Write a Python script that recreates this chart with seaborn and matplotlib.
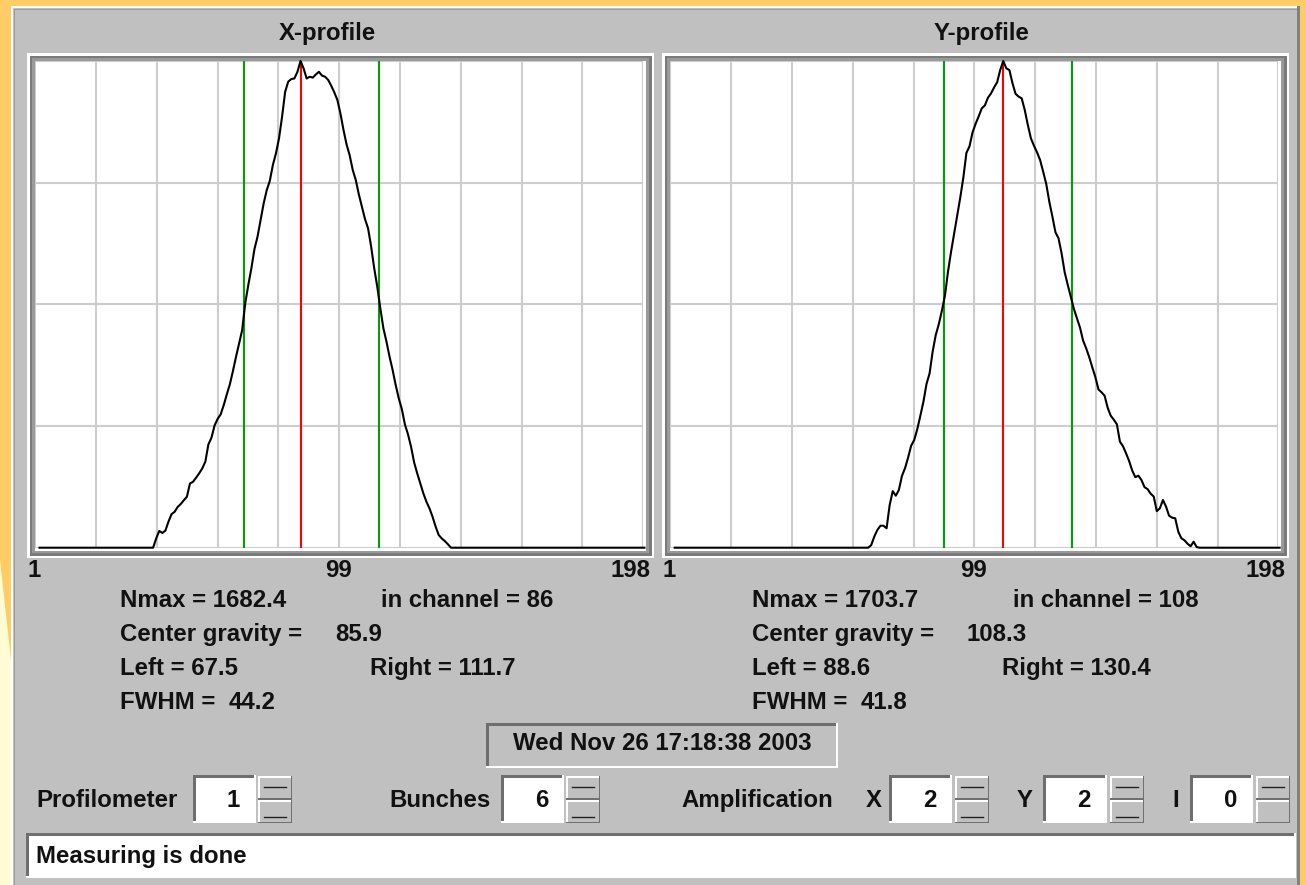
import numpy as np
import matplotlib
matplotlib.use("Agg")
import matplotlib.pyplot as plt
from matplotlib.patches import Rectangle, Polygon
import seaborn as sns

### profile data, counts per channel 1..198
channels = list(range(1, 199))

x_counts = [
    0, 0, 0, 0, 0, 0, 0, 0, 0, 0,
    0, 0, 0, 0, 0, 0, 0, 0, 0, 0,
    0, 0, 0, 0, 0, 0, 0, 0, 0, 0,
    0, 0, 0, 0, 0, 0, 0, 0, 32, 58,
    51, 59, 90, 116, 124, 141, 151, 164, 176, 222,
    228, 242, 257, 274, 297, 357, 380, 422, 445, 461,
    493, 530, 565, 611, 660, 706, 752, 845, 908, 966,
    1032, 1075, 1133, 1190, 1236, 1268, 1323, 1363, 1415, 1490,
    1576, 1611, 1620, 1622, 1645, 1682.4, 1657, 1622, 1628, 1625,
    1636, 1645, 1632, 1628, 1617, 1597, 1574, 1548, 1501, 1444,
    1394, 1357, 1306, 1271, 1221, 1179, 1136, 1104, 1041, 966,
    902, 827, 758, 712, 660, 614, 562, 516, 479, 426,
    392, 349, 295, 257, 222, 188, 159, 136, 107, 73,
    44, 32, 23, 12, 0, 0, 0, 0, 0, 0,
    0, 0, 0, 0, 0, 0, 0, 0, 0, 0,
    0, 0, 0, 0, 0, 0, 0, 0, 0, 0,
    0, 0, 0, 0, 0, 0, 0, 0, 0, 0,
    0, 0, 0, 0, 0, 0, 0, 0, 0, 0,
    0, 0, 0, 0, 0, 0, 0, 0, 0, 0,
    0, 0, 0, 0, 0, 0, 0, 0,
]

y_counts = [
    0, 0, 0, 0, 0, 0, 0, 0, 0, 0,
    0, 0, 0, 0, 0, 0, 0, 0, 0, 0,
    0, 0, 0, 0, 0, 0, 0, 0, 0, 0,
    0, 0, 0, 0, 0, 0, 0, 0, 0, 0,
    0, 0, 0, 0, 0, 0, 0, 0, 0, 0,
    0, 0, 0, 0, 0, 0, 0, 0, 0, 0,
    0, 0, 0, 0, 9, 39, 62, 77, 77, 68,
    149, 198, 182, 202, 251, 278, 315, 357, 377, 415,
    462, 511, 573, 610, 686, 744, 782, 829, 882, 966,
    1036, 1100, 1162, 1226, 1296, 1382, 1405, 1454, 1484, 1510,
    1538, 1548, 1575, 1590, 1611, 1629, 1672, 1703.7, 1678, 1672,
    1626, 1589, 1579, 1573, 1532, 1480, 1433, 1407, 1384, 1357,
    1316, 1273, 1211, 1159, 1104, 1083, 1030, 964, 920, 878,
    836, 803, 770, 725, 698, 667, 631, 597, 554, 544,
    532, 490, 462, 448, 432, 371, 355, 330, 303, 270,
    247, 252, 237, 212, 205, 189, 179, 128, 138, 167,
    144, 112, 105, 103, 56, 33, 26, 14, 5, 21,
    2, 0, 0, 0, 0, 0, 0, 0, 0, 0,
    0, 0, 0, 0, 0, 0, 0, 0, 0, 0,
    0, 0, 0, 0, 0, 0, 0, 0,
]

### results printed under each profile
x_nmax, x_peak_ch, x_gravity = 1682.4, 86, 85.9
x_left, x_right, x_fwhm = 67.5, 111.7, 44.2
y_nmax, y_peak_ch, y_gravity = 1703.7, 108, 108.3
y_left, y_right, y_fwhm = 88.6, 130.4, 41.8

### control panel values
date_text = "Wed Nov 26 17:18:38 2003"
profilometer = 1
bunches = 6
amp_x, amp_y, amp_i = 2, 2, 0
status_text = "Measuring is done"

W, H = 1306, 885
PANEL = "#c0c0c0"
DARK = "#6e6e6e"
FS = 17.3

plt.rcParams["font.family"] = ["Liberation Sans", "DejaVu Sans"]

fig = plt.figure(figsize=(W / 100, H / 100), dpi=100)
fig.patch.set_facecolor("#ffcc66")

# full-figure axes in pixel units for the window widgets
bg = fig.add_axes([0, 0, 1, 1])
bg.set_xlim(0, W)
bg.set_ylim(H, 0)
bg.axis("off")


def box(x0, y0, x1, y1, fc, z=1):
    bg.add_patch(Rectangle((x0, y0), x1 - x0, y1 - y0, facecolor=fc,
                           edgecolor="none", zorder=z))


def sunken(x0, y0, x1, y1, fc, w=2.5):
    box(x0, y0, x1, y1, "white")
    box(x0, y0, x1 - w, y1 - w, DARK)
    box(x0 + w, y0 + w, x1 - w, y1 - w, fc)


def raised(x0, y0, x1, y1, fc, w=1.5):
    box(x0, y0, x1, y1, "#707070")
    box(x0, y0, x1 - w, y1 - w, "white")
    box(x0 + w, y0 + w, x1 - w, y1 - w, fc)


def label(x, y, s, ha="left", size=FS):
    bg.text(x, y, s, ha=ha, va="baseline", fontsize=size,
            fontweight="bold", color="#111111", zorder=10)


# window background
bg.add_patch(Polygon([(0, 560), (11, 660), (11, 885), (0, 885)],
                     closed=True, facecolor="#fffbd2", edgecolor="none"))
box(11, 6, 1300, 885, "white")
box(12.5, 7.5, 1300, 885, PANEL)
box(13.5, 8.5, 15, 885, "#9c9c9c")
box(13.5, 8.5, 1297, 10, "#9c9c9c")
box(1297, 6, 1300, 885, "#808080")


def profile(x0, counts, nmax, peak, left, right, name, title_x, tx,
            center, fwhm):
    # sunken frame around the plot
    box(x0 - 8.2, 53, x0 + 618.8, 558, "white")
    box(x0 - 5.7, 55.5, x0 + 616.3, 555.5, "#7a7a7a")
    box(x0 - 3.2, 58, x0 + 613.8, 553, "#9a9a9a")
    box(x0 - 0.2, 61, x0 + 610.3, 550.5, "white")

    ax = fig.add_axes([x0 / W, 1 - 547.7 / H, 608 / W, (547.7 - 61) / H])
    ax.set_facecolor("white")
    sns.lineplot(x=channels, y=counts, ax=ax, color="black", lw=1.5,
                 zorder=4)
    ax.lines[-1].set_clip_on(False)
    ax.axvline(left, color="#00a000", lw=1.5, zorder=3)
    ax.axvline(right, color="#00a000", lw=1.5, zorder=3)
    ax.axvline(peak, color="#ff0000", lw=1.5, zorder=3)

    ax.set_xlim(-0.4, 197.6)
    ax.set_ylim(0, nmax)
    ax.set_xticks(np.linspace(-0.4, 197.6, 11))
    ax.set_yticks(np.linspace(0, nmax, 5))
    ax.grid(True, color="#cdcdcd", lw=1.5)
    ax.set_axisbelow(True)
    ax.tick_params(length=0, labelbottom=False, labelleft=False)
    ax.set_xlabel("")
    ax.set_ylabel("")
    for s in ax.spines.values():
        s.set_visible(False)

    label(title_x, 40, name, ha="center")
    label(x0 - 1, 577, "1", ha="center")
    label(x0 + 303, 577, "99", ha="center")
    label(x0 + 615, 577, "198", ha="right")

    label(tx, 607, f"Nmax = {nmax}")
    label(tx + 261, 607, f"in channel = {peak}")
    label(tx, 641, "Center gravity =")
    label(tx + 215, 641, f"{center}")
    label(tx, 675, f"Left = {left}")
    label(tx + 249.5, 675, f"Right = {right}")
    label(tx, 709, "FWHM =")
    label(tx + 109, 709, f"{fwhm}")


profile(35.2, x_counts, x_nmax, x_peak_ch, x_left, x_right, "X-profile",
        327, 120, x_gravity, x_fwhm)
profile(670.4, y_counts, y_nmax, y_peak_ch, y_left, y_right, "Y-profile",
        982, 752, y_gravity, y_fwhm)

# date field
sunken(486, 723, 838, 768, PANEL)
label(662, 750, date_text, ha="center")


def spinner(x0, lower=True):
    raised(x0, 776, x0 + 34, 799.5, PANEL)
    bg.plot([x0 + 6, x0 + 28], [787, 787], color="#222222", lw=1, zorder=5)
    raised(x0, 800, x0 + 34, 823, PANEL)
    if lower:
        bg.plot([x0 + 6, x0 + 28], [817, 817], color="#222222", lw=1,
                zorder=5)


def spin_field(x0, x1, value, sx, lower=True):
    sunken(x0, 775, x1, 823, "white")
    label(x1 - 16, 807, str(value), ha="right")
    spinner(sx, lower)


label(36, 807, "Profilometer")
spin_field(193, 256, profilometer, 258)
label(389, 807, "Bunches")
spin_field(501, 564, bunches, 566)
label(681, 807, "Amplification")
label(874, 807, "X", ha="center")
spin_field(889, 952, amp_x, 955)
label(1025, 807, "Y", ha="center")
spin_field(1043, 1107, amp_y, 1110)
label(1176, 807, "I", ha="center")
spin_field(1190, 1253, amp_i, 1256, lower=False)

# status line
sunken(26, 833, 1296, 878, "white")
label(36, 863, status_text)

fig.savefig("out.png", dpi=100, facecolor=fig.get_facecolor())
